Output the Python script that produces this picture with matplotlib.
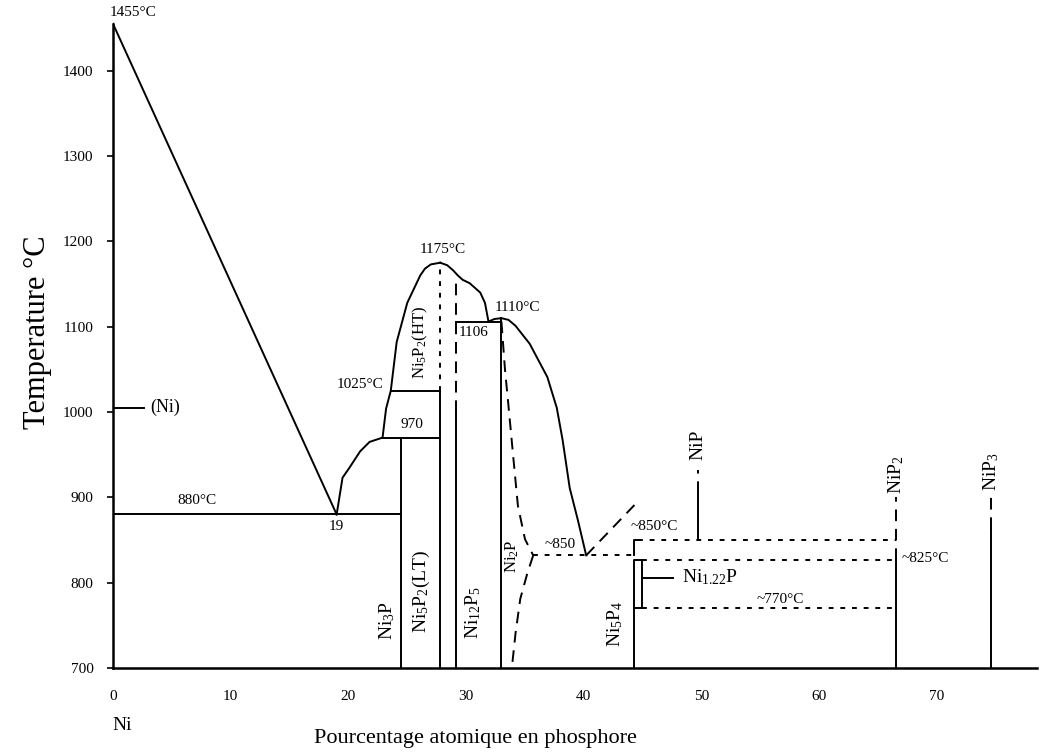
import matplotlib
matplotlib.use("Agg")
import matplotlib.pyplot as plt

plt.rcParams["font.family"] = ["Liberation Serif", "DejaVu Serif"]
plt.rcParams["mathtext.default"] = "regular"

# composition in at.% P, temperature in °C
liq_ni_x = [0, 19]
liq_ni_t = [1455, 880]

liq_left_x = [19, 19.5, 20.1, 21.0, 21.8, 22.9, 23.2, 23.6, 24.1, 25.0, 26.1, 26.5, 27.0, 27.8]
liq_left_t = [880, 923, 935, 954, 965, 970, 1004, 1025, 1082, 1128, 1160, 1168, 1173, 1175]

liq_peak_x = [27.8, 28.4, 28.9, 29.3, 29.7, 30.3, 31.2, 31.6, 31.9]
liq_peak_t = [1175, 1172, 1166, 1160, 1155, 1151, 1140, 1128, 1106]

liq_ni2p_x = [31.9, 32.4, 33.0, 33.6, 34.2, 35.4, 36.9, 37.7, 38.2, 38.8, 39.5, 40.2]
liq_ni2p_t = [1106, 1109, 1110, 1108, 1101, 1080, 1041, 1005, 967, 911, 873, 832]

ni2p_upper_x = [33.0, 33.3, 33.6, 34.0, 34.4, 35.0, 35.7]
ni2p_upper_t = [1106, 1050, 1007, 948, 890, 851, 832]
ni2p_lower_x = [35.7, 35.2, 34.6, 34.2, 33.9, 33.8]
ni2p_lower_t = [832, 811, 781, 741, 702, 700]

liq_dashed_x = [40.2, 44.3]
liq_dashed_t = [832, 891]

# compounds
x_ni3p, x_ni5p2, x_ni12p5, x_ni2p = 24.5, 27.8, 29.1, 33.0
x_ni5p4, x_nip, x_nip2, x_nip3 = 44.3, 49.7, 66.5, 74.6
box_x = [44.3, 44.9, 44.9, 44.3, 44.3]
box_t = [770, 770, 826, 826, 770]

# invariant temperatures
t_ni_melt, t_eut1, t_970, t_1025, t_1106 = 1455, 880, 970, 1025, 1106
t_eut2, t_850, t_825, t_770 = 832, 850, 826, 770
t_ni_mark = 1005

y_ticks = [700, 800, 900, 1000, 1100, 1200, 1300, 1400]
x_ticks = [0, 10, 20, 30, 40, 50, 60, 70]

fig = plt.figure(figsize=(10.4, 7.54), dpi=100)
ax = fig.add_axes([113 / 1040, 86 / 754, 924 / 1040, 657 / 754])
ax.set_xlim(0, 78.5)
ax.set_ylim(700, 1470)

lw = 1.4
solid = dict(color="black", lw=lw)
dot = dict(color="black", lw=lw, linestyle=(0, (2.5, 3.5)))
dash = dict(color="black", lw=lw, linestyle=(0, (6, 4)))

# liquidus
ax.plot(liq_ni_x, liq_ni_t, **solid)
ax.plot(liq_left_x, liq_left_t, **solid)
ax.plot(liq_peak_x, liq_peak_t, **solid)
ax.plot(liq_ni2p_x, liq_ni2p_t, **solid)
ax.plot(liq_dashed_x, liq_dashed_t, **dash)

# horizontals
ax.plot([0, x_ni3p], [t_eut1, t_eut1], **solid)
ax.plot([22.9, x_ni5p2], [t_970, t_970], **solid)
ax.plot([23.6, x_ni5p2], [t_1025, t_1025], **solid)
ax.plot([x_ni12p5, x_ni2p], [t_1106, t_1106], **solid)
ax.plot([35.7, x_ni5p4], [t_eut2, t_eut2], **dot)
ax.plot([x_ni5p4, x_ni5p4, 44.6], [t_eut2, t_850, t_850], **solid)
ax.plot([44.6, x_nip2], [t_850, t_850], **dot)
ax.plot([44.9, x_nip2], [t_825, t_825], **dot)
ax.plot([44.9, x_nip2], [t_770, t_770], **dot)

# compound lines
ax.plot([x_ni3p, x_ni3p], [700, t_970], **solid)
ax.plot([x_ni5p2, x_ni5p2], [t_1025, 1175], **dot)
ax.plot([x_ni5p2, x_ni5p2], [700, t_1025], **solid)
ax.plot([x_ni12p5, x_ni12p5], [1000, 1155], **dash)
ax.plot([x_ni12p5, x_ni12p5], [700, 1000], **solid)
ax.plot([x_ni2p, x_ni2p], [700, 1110], **solid)
ax.plot(ni2p_upper_x, ni2p_upper_t, **dash)
ax.plot(ni2p_lower_x, ni2p_lower_t, **dash)
ax.plot([x_ni5p4, x_ni5p4], [700, t_770], **solid)
ax.plot(box_x, box_t, **solid)
ax.plot([44.9, 47.6], [805, 805], **solid)
ax.plot([x_nip, x_nip], [t_850, 905], **solid)
ax.plot([x_nip, x_nip], [905, 932], **dash)
ax.plot([x_nip2, x_nip2], [700, t_825], **solid)
ax.plot([x_nip2, x_nip2], [t_825, 900], **dash)
ax.plot([x_nip3, x_nip3], [700, 863], **solid)
ax.plot([x_nip3, x_nip3], [863, 902], **dash)
ax.plot([-0.2, 2.6], [t_ni_mark, t_ni_mark], **solid)

# temperature labels
fs = 11
ax.text(-0.3, 1468, "1455°C", fontsize=fs, ha="left", va="center")
ax.text(7.1, 896, "880°C", fontsize=fs, ha="center", va="center")
ax.text(19, 866, "19", fontsize=fs, ha="center", va="center")
ax.text(3.2, t_ni_mark, "(Ni)", fontsize=13, ha="left", va="center")
ax.text(25.4, 985, "970", fontsize=fs, ha="center", va="center")
ax.text(23.0, 1032, "1025°C", fontsize=fs, ha="right", va="center")
ax.text(28.0, 1190, "1175°C", fontsize=fs, ha="center", va="center")
ax.text(30.6, 1093, "1106", fontsize=fs, ha="center", va="center")
ax.text(34.4, 1122, "1110°C", fontsize=fs, ha="center", va="center")
ax.text(38.0, 845, "~850", fontsize=fs, ha="center", va="center")
ax.text(44.0, 866, "~850°C", fontsize=fs, ha="left", va="center")
ax.text(67.0, 828, "~825°C", fontsize=fs, ha="left", va="center")
ax.text(54.7, 780, "~770°C", fontsize=fs, ha="left", va="center")
ax.text(48.3, 807, "Ni$_{1.22}$P", fontsize=14, ha="left", va="center")

# phase labels
pf = 14
ax.text(23.3, 756, "Ni$_3$P", fontsize=pf, rotation=90, ha="center", va="center")
ax.text(26.2, 790, "Ni$_5$P$_2$(LT)", fontsize=pf, rotation=90, ha="center", va="center")
ax.text(26.1, 1081, "Ni$_5$P$_2$(HT)", fontsize=12, rotation=90, ha="center", va="center")
ax.text(30.6, 765, "Ni$_{12}$P$_5$", fontsize=pf, rotation=90, ha="center", va="center")
ax.text(33.9, 831, "Ni$_2$P", fontsize=12, rotation=90, ha="center", va="center")
ax.text(42.7, 752, "Ni$_5$P$_4$", fontsize=pf, rotation=90, ha="center", va="center")
ax.text(x_nip, 962, "NiP", fontsize=pf, rotation=90, ha="center", va="center")
ax.text(x_nip2, 926, "NiP$_2$", fontsize=pf, rotation=90, ha="center", va="center")
ax.text(x_nip3, 930, "NiP$_3$", fontsize=pf, rotation=90, ha="center", va="center")

# axes
for side in ("top", "right"):
    ax.spines[side].set_visible(False)
ax.spines["left"].set_bounds(700, t_ni_melt)
ax.spines["left"].set_linewidth(1.8)
ax.spines["bottom"].set_linewidth(1.8)
ax.set_yticks(y_ticks)
ax.set_xticks(x_ticks)
ax.tick_params(axis="y", length=4, width=1.2, pad=10, labelsize=11)
ax.tick_params(axis="x", length=0, pad=16, labelsize=11)

fig.text(38 / 1040, 1 - 332 / 754, "Temperature °C", rotation=90, fontsize=22,
         ha="center", va="center")
fig.text(475 / 1040, 1 - 738 / 754, "Pourcentage atomique en phosphore", fontsize=16,
         ha="center", va="center")
fig.text(122 / 1040, 1 - 725 / 754, "Ni", fontsize=14, ha="center", va="center")

fig.savefig("out.png", dpi=100)
plt.close(fig)
